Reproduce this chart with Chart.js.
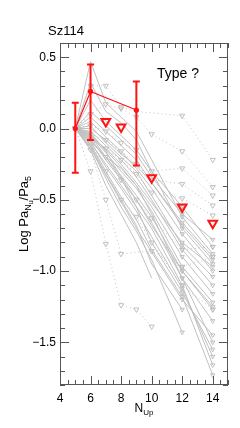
<!DOCTYPE html>
<html>
<head>
<meta charset="utf-8">
<script src="https://cdn.jsdelivr.net/npm/chart.js@4.4.1/dist/chart.umd.min.js"></script>
<style>
  html, body { margin: 0; padding: 0; background: #fff; }
</style>
</head>
<body>
<canvas id="paschen" width="240" height="428"></canvas>
<script>
// upper level of the Paschen lines
const NUP = [5, 6, 7, 8, 9, 10, 11, 12, 13, 14];
const xTickVals = [4, 6, 8, 10, 12, 14];
const yTickVals = [-1.5, -1.0, -0.5, 0.0, 0.5];

// Sz114 detections (red) and its upper limits
const sz114Nup = [5, 6, 9];
const sz114Ratio = [0, 0.26, 0.13];
const sz114ErrUp = [0.18, 0.19, 0.20];
const sz114ErrDown = [0.31, 0.34, 0.39];
const sz114LimNup = [7, 8, 10, 12, 14];
const sz114Lim = [0.05, 0.01, -0.345, -0.55, -0.665];

// comparison sample, detections (solid grey)
const graySolid = [
  [0, 0.47, 0.18, 0.08, -0.02, -0.22, null, -0.62, null, -0.88],
  [0, 0.32, 0.12, 0.04, -0.08, -0.30, null, -0.70, null, -0.95],
  [0, 0.12, 0.02, -0.08, -0.18, -0.34, null, -0.60, null, -0.78],
  [0, 0.05, -0.06, -0.16, -0.28, -0.42, null, -0.74, null, -1.00],
  [0, -0.02, -0.12, -0.22, -0.34, -0.50, null, -0.85, null, -1.10],
  [0, -0.05, -0.17, -0.30, -0.42, -0.58, null, -0.97, null, -1.22],
  [0, -0.07, -0.22, -0.36, -0.50, -0.66, null, -1.05, null, -1.50],
  [0, -0.09, -0.27, -0.42, -0.58, -0.76, null, -1.12, null, -1.60],
  [0, -0.11, -0.30, -0.48, -0.64, -0.85, null, -1.18, null, -1.73],
  [0, -0.13, -0.35, -0.55, -0.72, -0.92, null, -1.43, null, null],
  [0, -0.04, -0.15, -0.27, -0.40, -0.55, null, -0.90, null, -1.16],
  [0, -0.08, -0.20, -0.33, -0.47, -0.62, null, -1.00, null, -1.27],
  [0, 0.02, -0.10, -0.20, -0.30, -0.47, null, -0.82, null, -1.04],
  [0, -0.10, -0.25, -0.40, -0.55, -0.70, null, -1.10, null, -1.66],
  [0, 0.20, 0.05, -0.05, -0.15, -0.30, null, -0.55, null, -0.83],
  [0, -0.06, -0.14, -0.25, -0.38, -0.52, null, -0.80, null, -0.97],
  [0, -0.12, -0.32, -0.50, -0.68, -0.95, null, -1.27, null, null],
  [0, -0.03, -0.16, -0.34, -0.50, -0.68, null, -1.00, null, -1.25],
  [0, -0.14, null, null, -0.70, null, null, -1.20, null, -1.45],
  [0, 0.00, -0.08, -0.18, -0.26, -0.38, null, -0.66, null, -0.90],
  [0, -0.09, -0.20, -0.28, -0.40, -0.60, null, -1.05, null, -1.35],
  [0, -0.15, -0.40, -0.60, -0.80, -1.05, null, null, null, null],
  [0, 0.08, -0.02, -0.12, -0.22, -0.38, null, -0.68, null, -0.92],
  [0, -0.05, -0.20, -0.35, -0.55, -0.80, null, -1.15, null, -1.55]
];

// comparison sample, upper limits (dotted grey)
const grayDotted = [
  [0, 0.30, 0.30, 0.15, 0.12, null, null, 0.09, null, -0.22],
  [0, 0.10, 0.17, 0.14, 0.08, -0.04, null, -0.16, null, -0.41],
  [0, 0.02, -0.02, -0.10, -0.15, -0.30, null, -0.28, null, -0.47],
  [0, -0.04, -0.08, -0.16, -0.25, -0.36, null, -0.39, null, -0.54],
  [0, -0.07, -0.14, -0.22, -0.32, -0.45, null, -0.49, null, -0.61],
  [0, -0.30, -0.81, -1.24, -1.27, -1.39, null, null, null, null],
  [0, -0.15, -0.50, -0.88, null, -0.86, null, -0.97, null, -0.90],
  [0, -0.10, -0.30, -0.50, -0.62, -0.80, null, -1.10, null, -1.27],
  [0, -0.06, -0.20, -0.36, -0.50, -0.63, null, -0.85, null, -0.83]
];

const FONT = "'Liberation Sans', Arial, sans-serif";
const RED = 'rgb(255,20,20)';
const GRAY = 'rgb(192,192,192)';
const FRAME = '#555';

function toPoints(vals) {
  return NUP.map((n, i) => ({ x: n, y: vals[i] })).filter(p => p.y !== null);
}

const datasets = [];

// red first so it is painted on top
datasets.push({
  data: sz114Nup.map((n, i) => ({ x: n, y: sz114Ratio[i] })),
  borderColor: RED, backgroundColor: RED, borderWidth: 1.2,
  pointRadius: 2, pointStyle: 'circle'
});
datasets.push({
  data: sz114LimNup.map((n, i) => ({ x: n, y: sz114Lim[i] })),
  showLine: false, borderColor: RED, backgroundColor: 'rgba(0,0,0,0)',
  pointStyle: 'triangle', rotation: 180, pointRadius: 5, borderWidth: 2
});

grayDotted.forEach(vals => {
  datasets.push({
    data: toPoints(vals),
    borderColor: GRAY, borderWidth: 1, borderDash: [1, 3],
    pointStyle: 'triangle', rotation: 180, pointRadius: 3,
    pointBorderColor: GRAY, pointBackgroundColor: 'rgba(0,0,0,0)', pointBorderWidth: 1
  });
});

graySolid.forEach(vals => {
  datasets.push({
    data: toPoints(vals),
    borderColor: GRAY, borderWidth: 1,
    pointStyle: 'triangle', rotation: 180,
    pointRadius: c => (c.raw && c.raw.x >= 12 ? 2.5 : 0),
    pointBorderColor: GRAY, pointBackgroundColor: 'rgba(0,0,0,0)', pointBorderWidth: 1
  });
});

// error bars on the red detections
const errorBars = {
  id: 'errorBars',
  afterDatasetsDraw(chart) {
    const ctx = chart.ctx, xs = chart.scales.x, ys = chart.scales.y;
    ctx.save();
    ctx.strokeStyle = RED;
    ctx.lineWidth = 2;
    sz114Nup.forEach((n, i) => {
      const px = xs.getPixelForValue(n);
      const top = ys.getPixelForValue(sz114Ratio[i] + sz114ErrUp[i]);
      const bot = ys.getPixelForValue(sz114Ratio[i] - sz114ErrDown[i]);
      ctx.beginPath();
      ctx.moveTo(px, top); ctx.lineTo(px, bot);
      ctx.moveTo(px - 3.5, top); ctx.lineTo(px + 3.5, top);
      ctx.moveTo(px - 3.5, bot); ctx.lineTo(px + 3.5, bot);
      ctx.stroke();
    });
    ctx.restore();
  }
};

// IDL style frame with inward ticks on all sides, plus the texts
const frame = {
  id: 'frame',
  afterDraw(chart) {
    const ctx = chart.ctx, a = chart.chartArea;
    const xs = chart.scales.x, ys = chart.scales.y;
    ctx.save();
    ctx.strokeStyle = FRAME;
    ctx.lineWidth = 1;
    ctx.strokeRect(a.left + 0.5, a.top + 0.5, a.right - a.left - 1, a.bottom - a.top - 1);
    ctx.beginPath();
    for (let v = 4; v <= 15.001; v += 0.5) {
      const px = Math.round(xs.getPixelForValue(v)) + 0.5;
      const len = Math.abs(v / 2 - Math.round(v / 2)) < 1e-6 ? 9 : 5;
      ctx.moveTo(px, a.bottom); ctx.lineTo(px, a.bottom - len);
      ctx.moveTo(px, a.top); ctx.lineTo(px, a.top + len);
    }
    for (let k = -18; k <= 6; k++) {
      const v = k / 10;
      const py = Math.round(ys.getPixelForValue(v)) + 0.5;
      const len = k % 5 === 0 ? 9 : 5;
      ctx.moveTo(a.left, py); ctx.lineTo(a.left + len, py);
      ctx.moveTo(a.right, py); ctx.lineTo(a.right - len, py);
    }
    ctx.stroke();

    ctx.fillStyle = '#000';
    ctx.textBaseline = 'alphabetic';
    ctx.textAlign = 'left';
    ctx.font = '13px ' + FONT;
    ctx.fillText('Sz114', 48, 35);
    ctx.font = '14px ' + FONT;
    ctx.fillText('Type ?', 157, 78);

    // x title N_Up
    const cx = (a.left + a.right) / 2;
    ctx.font = '12px ' + FONT;
    const wN = ctx.measureText('N').width;
    ctx.font = '8px ' + FONT;
    const wUp = ctx.measureText('Up').width;
    let x0 = cx - (wN + wUp) / 2;
    ctx.font = '12px ' + FONT;
    ctx.fillText('N', x0, 412);
    ctx.font = '8px ' + FONT;
    ctx.fillText('Up', x0 + wN, 415);

    // y title Log Pa_Nu / Pa_5
    const parts = [
      { t: 'Log Pa', f: 13, dy: 0 },
      { t: 'N', f: 9, dy: 3 },
      { t: 'u', f: 7, dy: 5 },
      { t: '/Pa', f: 13, dy: 0 },
      { t: '5', f: 9, dy: 3 }
    ];
    let total = 0;
    parts.forEach(p => { ctx.font = p.f + 'px ' + FONT; p.w = ctx.measureText(p.t).width; total += p.w; });
    ctx.translate(28, (a.top + a.bottom) / 2);
    ctx.rotate(-Math.PI / 2);
    let x = -total / 2;
    parts.forEach(p => {
      ctx.font = p.f + 'px ' + FONT;
      ctx.fillText(p.t, x, p.dy);
      x += p.w;
    });
    ctx.restore();
  }
};

new Chart(document.getElementById('paschen'), {
  type: 'scatter',
  data: { datasets },
  options: {
    responsive: false,
    animation: false,
    layout: { padding: { top: 43, right: 12, left: 0, bottom: 0 } },
    plugins: { legend: { display: false }, tooltip: { enabled: false } },
    elements: { line: { tension: 0 } },
    datasets: { scatter: { showLine: true } },
    scales: {
      x: {
        type: 'linear', min: 4, max: 15,
        grid: { display: false, drawTicks: false },
        border: { display: false },
        ticks: { padding: 6, color: '#000', font: { family: FONT, size: 12 } },
        afterBuildTicks: s => { s.ticks = xTickVals.map(v => ({ value: v })); },
        afterFit: s => { s.height = 43; }
      },
      y: {
        type: 'linear', min: -1.8, max: 0.6,
        grid: { display: false, drawTicks: false },
        border: { display: false },
        ticks: {
          padding: 4, color: '#000', font: { family: FONT, size: 12 },
          callback: v => v.toFixed(1).replace('-', '\u2212')
        },
        afterBuildTicks: s => { s.ticks = yTickVals.map(v => ({ value: v })); },
        afterFit: s => { s.width = 60; }
      }
    }
  },
  plugins: [errorBars, frame]
});
</script>
</body>
</html>
